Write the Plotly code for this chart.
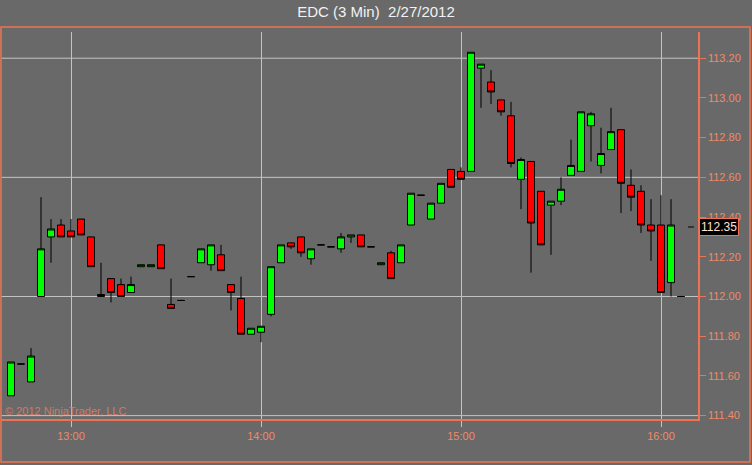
import pandas as pd
import plotly.graph_objects as go

# 3-minute bar times (one bar missing between 13:00 and 14:00)
times = [t.strftime("%H:%M") for t in pd.date_range("2012-02-27 12:42", "2012-02-27 16:06", freq="3min")]
times.remove("13:30")

opens = [111.50, 111.66, 111.57, 112.00, 112.30, 112.36, 112.33, 112.39, 112.30, 112.01,
         112.09, 112.06, 112.02, 112.15, 112.15, 112.26, 111.96, 111.98, 112.10, 112.17,
         112.16, 112.21, 112.06, 111.99, 111.81, 111.82, 111.91, 112.17, 112.27, 112.30,
         112.19, 112.26, 112.25, 112.24, 112.30, 112.31, 112.25, 112.16, 112.22, 112.17,
         112.36, 112.51, 112.39, 112.47, 112.64, 112.63, 112.63, 113.15, 113.08, 112.99,
         112.91, 112.59, 112.68, 112.53, 112.46, 112.48, 112.61, 112.63, 112.86, 112.66,
         112.74, 112.84, 112.56, 112.53, 112.36, 112.36, 112.07, 112.00]
highs = [111.67, 111.66, 111.74, 112.50, 112.39, 112.39, 112.39, 112.39, 112.30, 112.17,
         112.09, 112.09, 112.10, 112.16, 112.16, 112.26, 112.09, 111.98, 112.10, 112.24,
         112.26, 112.26, 112.06, 112.10, 111.84, 111.85, 112.15, 112.26, 112.27, 112.30,
         112.24, 112.26, 112.25, 112.32, 112.31, 112.31, 112.25, 112.17, 112.23, 112.26,
         112.52, 112.51, 112.47, 112.57, 112.64, 112.65, 113.23, 113.17, 113.14, 112.99,
         112.98, 112.70, 112.68, 112.53, 112.48, 112.60, 112.79, 112.93, 112.93, 112.85,
         112.95, 112.84, 112.64, 112.56, 112.49, 112.51, 112.49, 112.00]
lows = [111.50, 111.66, 111.57, 112.00, 112.17, 112.30, 112.30, 112.31, 112.15, 112.00,
        111.97, 112.00, 112.02, 112.15, 112.15, 112.14, 111.94, 111.98, 112.10, 112.17,
        112.13, 112.13, 111.93, 111.81, 111.81, 111.77, 111.90, 112.17, 112.24, 112.20,
        112.16, 112.26, 112.25, 112.22, 112.27, 112.25, 112.25, 112.16, 112.09, 112.17,
        112.36, 112.51, 112.39, 112.47, 112.55, 112.59, 112.63, 112.95, 112.97, 112.91,
        112.65, 112.44, 112.12, 112.26, 112.21, 112.46, 112.61, 112.63, 112.68, 112.62,
        112.74, 112.42, 112.43, 112.32, 112.18, 112.02, 112.00, 112.00]
closes = [111.67, 111.66, 111.70, 112.24, 112.34, 112.30, 112.30, 112.31, 112.15, 112.00,
          112.02, 112.00, 112.06, 112.16, 112.16, 112.14, 111.94, 111.98, 112.10, 112.24,
          112.26, 112.13, 112.02, 111.81, 111.84, 111.85, 112.15, 112.26, 112.25, 112.22,
          112.24, 112.26, 112.25, 112.30, 112.31, 112.25, 112.25, 112.17, 112.09, 112.26,
          112.52, 112.51, 112.47, 112.57, 112.55, 112.59, 113.23, 113.17, 113.03, 112.93,
          112.67, 112.69, 112.37, 112.26, 112.48, 112.54, 112.66, 112.93, 112.92, 112.72,
          112.83, 112.57, 112.50, 112.36, 112.33, 112.02, 112.36, 112.00]

time_ticks = ["13:00", "14:00", "15:00", "16:00"]
grid_prices = [111.40, 112.00, 112.60, 113.20]
last_price = 112.35

ORANGE = "#EE7350"
LABEL = "#F08A68"
GRID = "#C4C4C4"
BG = "#696969"
FONT = "Liberation Sans, Arial, sans-serif"

fig = go.Figure(go.Candlestick(
    x=times, open=opens, high=highs, low=lows, close=closes,
    increasing=dict(fillcolor="#00FF00", line=dict(color="black", width=1)),
    decreasing=dict(fillcolor="#FF0000", line=dict(color="black", width=1)),
    whiskerwidth=0, showlegend=False, hoverinfo="skip",
))

for p in grid_prices:
    fig.add_shape(type="line", xref="paper", x0=0, x1=1, yref="y", y0=p, y1=p,
                  line=dict(color=GRID, width=1), layer="below")

# outer panel border
fig.add_shape(type="rect", xref="paper", yref="paper", x0=0, x1=1.0746, y0=-0.111, y1=1.0129,
              line=dict(color=ORANGE, width=1.5))

# last price pointer
fig.add_shape(type="line", xref="x", yref="y", x0=67.7, x1=68.3, y0=last_price, y1=last_price,
              line=dict(color="black", width=1))
fig.add_annotation(x=1.002, xref="paper", xanchor="left", y=last_price, yref="y",
                   text=f"{last_price:.2f}", showarrow=False, bgcolor="black",
                   bordercolor=ORANGE, borderwidth=1, borderpad=1,
                   font=dict(family=FONT, size=12, color="#FFE2D4"))

fig.add_annotation(x=0.003, xref="paper", xanchor="left", y=0.021, yref="paper", yanchor="middle",
                   text="© 2012 NinjaTrader, LLC", showarrow=False,
                   font=dict(family=FONT, size=11, color="rgba(240,130,100,0.75)"))

fig.update_layout(
    width=752, height=465,
    margin=dict(l=1, r=54, t=32, b=46),
    paper_bgcolor=BG, plot_bgcolor=BG,
    boxgap=0.3, boxgroupgap=0,
    font=dict(family=FONT, color=LABEL, size=11),
    title=dict(text="EDC (3 Min) \u00a02/27/2012", x=0.5, xref="container", xanchor="center",
               y=0.975, yanchor="middle",
               font=dict(family=FONT, size=15, color="#F2F2F2")),
    xaxis=dict(type="category", range=[-1.0, 68.7], rangeslider=dict(visible=False),
               tickmode="array", tickvals=time_ticks, ticktext=time_ticks,
               showgrid=True, gridcolor=GRID, gridwidth=1,
               ticks="outside", ticklen=6, tickcolor=GRID,
               showline=True, linecolor=ORANGE, linewidth=1.5,
               tickfont=dict(color=LABEL, size=11), zeroline=False),
    yaxis=dict(side="right", range=[111.383, 113.332], dtick=0.2, tick0=111.4, tickformat=".2f",
               showgrid=False, ticks="outside", ticklen=6, tickcolor=ORANGE,
               showline=True, linecolor=ORANGE, linewidth=1.5,
               tickfont=dict(color=LABEL, size=11), zeroline=False),
)

fig.write_html("out.html", config={"displayModeBar": False},
               post_script="document.body.style.margin='0';")
